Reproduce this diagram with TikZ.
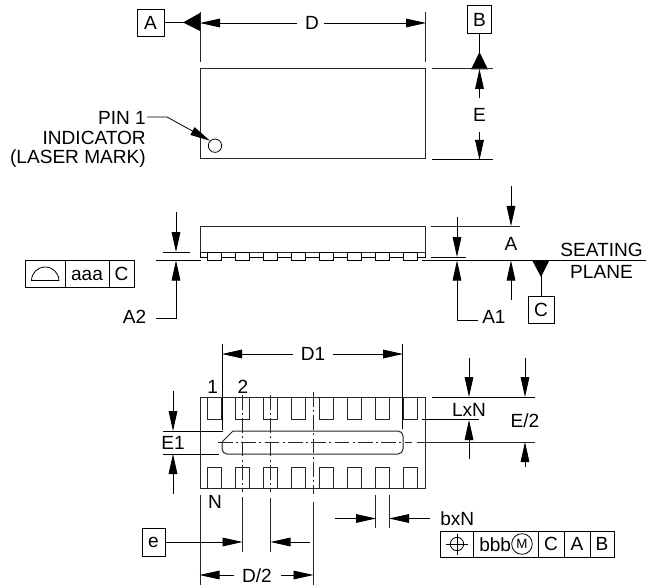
\documentclass[tikz,border=0pt]{standalone}
\usepackage{fontspec}
\setmainfont{Liberation Sans}
\usetikzlibrary{arrows.meta}
\tikzset{
  edge/.style={line width=0.75pt,black!85},
  thin line/.style={line width=0.6pt,black},
  dim/.style={line width=0.6pt,black,-{Triangle[length=15pt,width=6.5pt]}},
  lab/.style={inner sep=0pt,font=\fontsize{14.3}{16}\selectfont},
  boxed/.style={draw,line width=0.6pt,inner sep=0pt,font=\fontsize{14.3}{16}\selectfont},
  cl/.style={line width=0.6pt,black!85,dash pattern=on 11pt off 2.5pt on 1.5pt off 2.5pt},
  bigtri/.style={fill=black,draw=none}
}
\begin{document}
\begin{tikzpicture}[x=0.75pt,y=-0.75pt]
\useasboundingbox (0,0) rectangle (646,588);
\fill[white] (0,0) rectangle (646,588);
% ---- top view
\draw[edge] (200,69) rectangle (425,159);
\draw[edge] (200,12)--(200,62) (425,12)--(425,62);
\node[boxed,minimum width=20.2pt,minimum height=20.2pt] (boxA) at (150.5,22.5) {A};
\node[boxed,minimum width=18pt,minimum height=21pt] (boxB) at (479.5,19.5) {B};
\node[lab] (D) at (312,23) {D};
\draw[thin line] (boxA.east)--(200,22.5);
\fill[bigtri] (183,22.5)--(200,13)--(200,31)--cycle;
\coordinate (dl) at (200,23); \coordinate (dr) at (426,23);
\draw[dim] (297,23)--(dl);
\draw[dim] (324,23)--(dr);
\draw[thin line] (boxB.south)--(479.5,55);
\fill[bigtri] (479.5,52)--(471,69.5)--(488,69.5)--cycle;
\draw[edge] (432,69)--(493,69);
\draw[thin line] (432,159)--(493,159);
\node[lab] (E) at (479.5,115) {E};
\draw[dim] (479.5,98)--(479.5,69);
\draw[dim] (479.5,132)--(479.5,160);
\node[draw,circle,line width=0.6pt,inner sep=0pt,minimum size=10pt] (pinmark) at (215,145.7) {};
\node[lab,align=right,anchor=east,font=\fontsize{14.3}{14.7}\selectfont] (pin) at (146,139.5) {PIN 1\\INDICATOR\\(LASER MARK)};
\draw[dim] (147,117)--(167,117)--(pinmark.north west);
% ---- side view
\draw[edge] (200,252)--(200,226)--(425,226)--(425,252);
\draw[edge] (200,252)--(425,252);
\draw[thin line] (200,252)--(200,257)--(207,257);
\draw[thin line] (425,252)--(425,257)--(418,257);
\foreach \k in {0,...,7}{
  \pgfmathsetmacro{\xa}{207+28*\k}
  \draw[thin line,fill=white] (\xa,252) rectangle (\xa+14.3,260.5);
}
\foreach \k in {0,...,6}{
  \pgfmathsetmacro{\xa}{221.3+28*\k}
  \draw[thin line] (\xa,257)--(\xa+13.7,257);
}
\draw[thin line] (156,260.3)--(201,260.3);
\draw[thin line] (422,260.3)--(646,260.3);
% frame aaa
\draw[thin line] (25,260.3) rectangle (134,287.3);
\draw[thin line] (65.5,260.3)--(65.5,287.3) (109,260.3)--(109,287.3);
\draw[thin line] (31.5,280.5) arc[start angle=180,end angle=360,x radius=13.7,y radius=13.5]--cycle;
\node[lab] (aaa) at (87,275) {aaa};
\node[lab] (fC) at (121.5,274) {C};
% A2
\draw[thin line] (163,252)--(190,252);
\coordinate (a2top) at (176,252); \coordinate (a2bot) at (176,260.5);
\draw[dim] (176,212)--(a2top);
\node[lab,anchor=east] (A2) at (146.5,317) {A2};
\draw[dim] (156,318)--(176,318)--(a2bot);
% A
\draw[edge] (431,226)--(520,226);
\draw[thin line] (431,257)--(466,257);
\node[lab] (Alab) at (511,244) {A};
\draw[dim] (511,186)--(511,226);
\draw[dim] (511,300)--(511,260.5);
% A1
\draw[dim] (457,217)--(457,257);
\node[lab,anchor=west] (A1) at (482,317) {A1};
\draw[dim] (478,320)--(457,320)--(457,260.5);
% C datum
\node[boxed,minimum width=19.5pt,minimum height=20.2pt] (boxC) at (541,309.5) {C};
\draw[thin line] (boxC.north)--(541,272);
\fill[bigtri] (532,260)--(549.5,260)--(541,277)--cycle;
\node[lab,align=center,font=\fontsize{14.3}{16.4}\selectfont] (seat) at (601.5,261) {SEATING\\PLANE};
% ---- bottom view
\draw[edge] (200,397) rectangle (425,488);
\foreach \k in {0,...,7}{
  \pgfmathsetmacro{\xa}{207+28*\k}
  \draw[edge] (\xa,397)--(\xa,419.5)--(\xa+14.3,419.5)--(\xa+14.3,397);
  \draw[edge] (\xa,488)--(\xa,467)--(\xa+14.3,467)--(\xa+14.3,488);
}
\draw[edge,fill=white] (233,431)--(398,431) arc[start angle=-90,end angle=0,radius=5]--(403,449) arc[start angle=0,end angle=90,radius=5]--(227,454) arc[start angle=90,end angle=180,radius=5]--(222,442)--cycle;
\draw[cl] (218,442)--(412,442);
\draw[edge] (417,442)--(535,442);
\draw[cl] (242,395)--(242,492);
\draw[cl] (270.7,395)--(270.7,492);
\draw[cl] (313,392)--(313,494);
% D1
\draw[thin line] (222,344)--(222,430) (402.5,344)--(402.5,429);
\node[lab] (D1) at (313,354) {D1};
\draw[dim] (293,354)--(222,354);
\draw[dim] (333,354)--(403,354);
\node[lab] (n1) at (212.7,387) {1};
\node[lab] (n2) at (243,387) {2};
\node[lab] (nN) at (215,502) {N};
% E1
\draw[thin line] (163,431)--(223,431) (163,454)--(219,454);
\node[lab] (E1) at (173,442.5) {E1};
\draw[dim] (173,391)--(173,431);
\draw[dim] (173,494)--(173,454);
% LxN
\draw[thin line] (432,397)--(535,397);
\draw[thin line] (422,419.5)--(479,419.5);
\node[lab] (LxN) at (469,410) {LxN};
\draw[dim] (469,358)--(469,397);
\draw[dim] (469,459)--(469,420);
% E/2
\node[lab] (E2) at (525,421) {E/2};
\draw[dim] (525,358)--(525,397);
\draw[dim] (525,467)--(525,442);
% lower extension lines
\draw[edge] (200,495)--(200,585);
\draw[edge] (242,497)--(242,552);
\draw[edge] (270.7,498)--(270.7,552);
\draw[edge] (313,502)--(313,585);
% e
\node[boxed,minimum width=17.2pt,minimum height=21pt] (boxe) at (153.5,542) {e};
\draw[dim] (boxe.east)--(242.5,542);
\draw[dim] (310,542)--(270.5,542);
% D/2
\node[lab] (D2) at (257,575.5) {D/2};
\draw[dim] (234,575)--(199.5,575);
\draw[dim] (281,575)--(313.5,575);
% bxN
\draw[edge] (375.7,495)--(375.7,528) (389.3,495)--(389.3,528);
\draw[dim] (335,518.5)--(376,518.5);
\draw[dim] (430,518.5)--(389,518.5);
\node[lab,anchor=west] (bxN) at (440,518.5) {bxN};
% position frame
\draw[thin line] (440,531) rectangle (614,557);
\draw[thin line] (473,531)--(473,557) (538,531)--(538,557) (564,531)--(564,557) (590,531)--(590,557);
\node[draw,circle,line width=0.6pt,inner sep=0pt,minimum size=10pt] (pos) at (457,544) {};
\draw[thin line] (446,544)--(468,544) (457,533.5)--(457,554.5);
\node[lab,anchor=west] (bbb) at (479,544.5) {bbb};
\node[draw,circle,line width=0.6pt,inner sep=0pt,minimum size=15.5pt,font=\fontsize{10}{12}\selectfont] (mm) at (522,544) {M};
\node[lab] (c2) at (551,544) {C};
\node[lab] (a2) at (577,544) {A};
\node[lab] (b2) at (602,544) {B};
\end{tikzpicture}
\end{document}
